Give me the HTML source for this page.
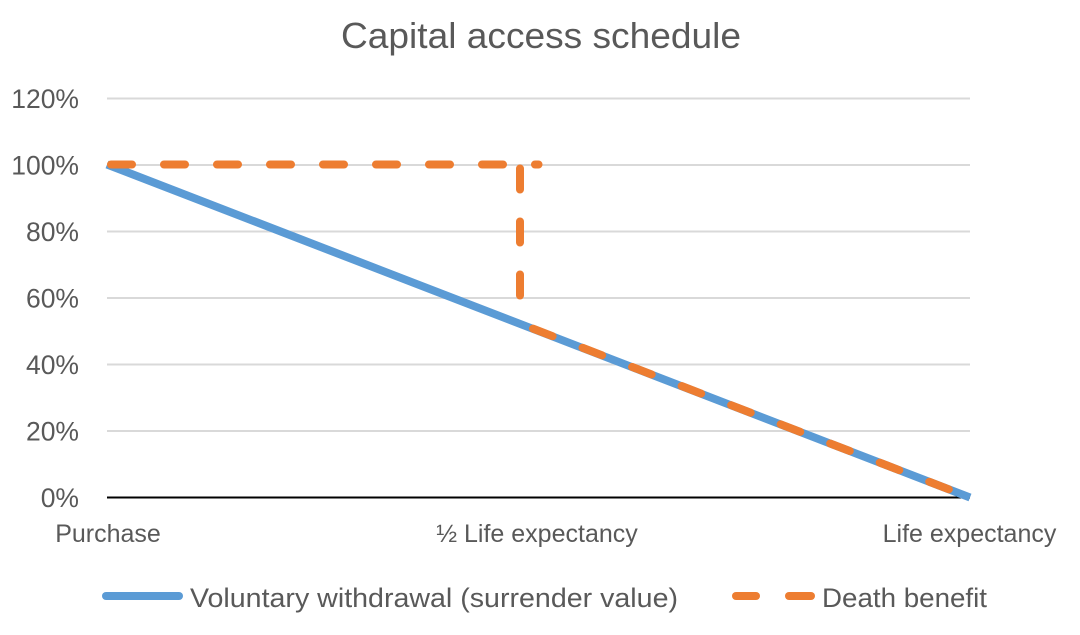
<!DOCTYPE html>
<html>
<head>
<meta charset="utf-8">
<style>
  html, body { margin: 0; padding: 0; background: #ffffff; }
  svg { display: block; }
  text { font-family: "Liberation Sans", Arial, sans-serif; fill: #595959; }
</style>
</head>
<body>
<svg width="1080" height="635" viewBox="0 0 1080 635" xmlns="http://www.w3.org/2000/svg">
  <rect x="0" y="0" width="1080" height="635" fill="#ffffff"/>

  <!-- Title -->
  <text x="341" y="48" font-size="36" textLength="400" lengthAdjust="spacingAndGlyphs">Capital access schedule</text>

  <!-- Gridlines -->
  <g stroke="#d9d9d9" stroke-width="2">
    <line x1="107" y1="98.5" x2="970" y2="98.5"/>
    <line x1="107" y1="165" x2="970" y2="165"/>
    <line x1="107" y1="231.5" x2="970" y2="231.5"/>
    <line x1="107" y1="298" x2="970" y2="298"/>
    <line x1="107" y1="364.5" x2="970" y2="364.5"/>
    <line x1="107" y1="431" x2="970" y2="431"/>
  </g>
  <!-- Horizontal axis -->
  <line x1="107" y1="497.5" x2="970" y2="497.5" stroke="#000000" stroke-width="2"/>

  <!-- Y labels -->
  <g font-size="26.5" text-anchor="end">
    <text x="79" y="108">120%</text>
    <text x="79" y="174.5">100%</text>
    <text x="79" y="241">80%</text>
    <text x="79" y="307.5">60%</text>
    <text x="79" y="374">40%</text>
    <text x="79" y="440.5">20%</text>
    <text x="79" y="507">0%</text>
  </g>

  <!-- X labels -->
  <g font-size="25" text-anchor="middle">
    <text x="108" y="542">Purchase</text>
    <text x="537" y="542">½ Life expectancy</text>
    <text x="969.5" y="542">Life expectancy</text>
  </g>

  <!-- Blue series -->
  <line x1="107" y1="164.5" x2="970" y2="497.5" stroke="#5b9bd5" stroke-width="8"/>

  <!-- Orange dashed series -->
  <g stroke="#ed7d31" stroke-width="8" stroke-linecap="round" fill="none" stroke-dasharray="21 32">
    <line x1="111" y1="164.5" x2="538.5" y2="164.5"/>
    <line x1="520" y1="168.5" x2="520" y2="300"/>
    <line x1="533" y1="328.6" x2="970" y2="497.5" stroke-dasharray="21 32.1"/>
  </g>

  <!-- Legend -->
  <line x1="106" y1="596" x2="179" y2="596" stroke="#5b9bd5" stroke-width="8" stroke-linecap="round"/>
  <text x="190" y="607" font-size="27" textLength="488" lengthAdjust="spacingAndGlyphs">Voluntary withdrawal (surrender value)</text>

  <g stroke="#ed7d31" stroke-width="8" stroke-linecap="round">
    <line x1="736" y1="596" x2="756" y2="596"/>
    <line x1="789" y1="596" x2="811" y2="596"/>
  </g>
  <text x="822" y="607" font-size="27" textLength="165" lengthAdjust="spacingAndGlyphs">Death benefit</text>
</svg>
</body>
</html>
